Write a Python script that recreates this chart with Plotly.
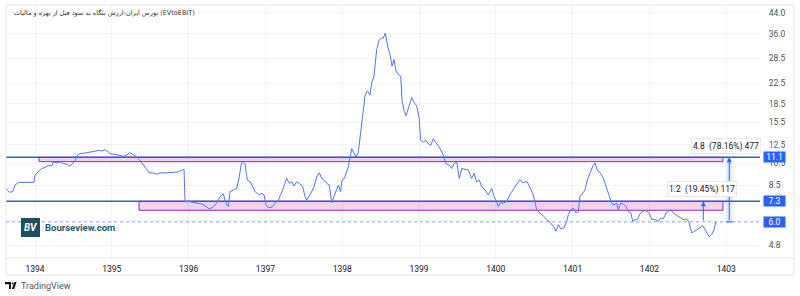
import numpy as np
import plotly.graph_objects as go

# ---------------- data ----------------
T = [1393.622, 1393.665, 1393.709, 1393.740, 1393.782, 1393.870, 1393.957, 1393.987, 1394.000, 1394.043,
     1394.087, 1394.130, 1394.173, 1394.217, 1394.238, 1394.283, 1394.326, 1394.368, 1394.413, 1394.456,
     1394.491, 1394.521, 1394.551, 1394.586, 1394.651, 1394.716, 1394.781, 1394.837, 1394.868, 1394.911,
     1394.954, 1394.977, 1395.042, 1395.107, 1395.150, 1395.194, 1395.228, 1395.272, 1395.315, 1395.358,
     1395.402, 1395.445, 1395.488, 1395.533, 1395.585, 1395.628, 1395.715, 1395.801, 1395.866, 1395.931,
     1395.940, 1395.953, 1396.018, 1396.061, 1396.126, 1396.171, 1396.214, 1396.270, 1396.322, 1396.366,
     1396.409, 1396.452, 1396.474, 1396.496, 1396.517, 1396.539, 1396.582, 1396.626, 1396.660, 1396.682,
     1396.704, 1396.734, 1396.764, 1396.799, 1396.835, 1396.865, 1396.895, 1396.921, 1396.952, 1396.982,
     1397.008, 1397.038, 1397.082, 1397.125, 1397.168, 1397.225, 1397.277, 1397.311, 1397.342, 1397.372,
     1397.407, 1397.441, 1397.486, 1397.516, 1397.538, 1397.581, 1397.633, 1397.668, 1397.702, 1397.733,
     1397.763, 1397.798, 1397.832, 1397.863, 1397.906, 1397.949, 1397.980, 1397.993, 1398.036, 1398.079,
     1398.124, 1398.154, 1398.180, 1398.210, 1398.241, 1398.267, 1398.297, 1398.327, 1398.362, 1398.384,
     1398.414, 1398.449, 1398.483, 1398.514, 1398.535, 1398.561, 1398.592, 1398.622, 1398.648, 1398.674,
     1398.700, 1398.730, 1398.762, 1398.779, 1398.805, 1398.831, 1398.861, 1398.905, 1398.935, 1398.970,
     1399.000, 1399.022, 1399.056, 1399.091, 1399.121, 1399.152, 1399.186, 1399.221, 1399.264, 1399.296,
     1399.316, 1399.351, 1399.395, 1399.426, 1399.456, 1399.491, 1399.525, 1399.556, 1399.599, 1399.642,
     1399.686, 1399.716, 1399.751, 1399.785, 1399.816, 1399.859, 1399.902, 1399.947, 1399.977, 1400.012,
     1400.033, 1400.064, 1400.098, 1400.133, 1400.163, 1400.194, 1400.237, 1400.280, 1400.315, 1400.350,
     1400.380, 1400.410, 1400.445, 1400.480, 1400.510, 1400.532, 1400.576, 1400.618, 1400.663, 1400.706,
     1400.749, 1400.784, 1400.814, 1400.845, 1400.888, 1400.923, 1400.944, 1400.975, 1401.009, 1401.044,
     1401.074, 1401.096, 1401.131, 1401.161, 1401.191, 1401.227, 1401.262, 1401.292, 1401.322, 1401.357,
     1401.392, 1401.422, 1401.452, 1401.478, 1401.509, 1401.539, 1401.574, 1401.595, 1401.626, 1401.660,
     1401.695, 1401.725, 1401.757, 1401.783, 1401.813, 1401.842, 1401.878, 1401.913, 1401.943, 1401.973,
     1401.999, 1402.030, 1402.073, 1402.116, 1402.147, 1402.181, 1402.216, 1402.246, 1402.277, 1402.311,
     1402.346, 1402.376, 1402.407, 1402.441, 1402.486, 1402.519, 1402.551, 1402.594, 1402.624, 1402.659,
     1402.694, 1402.724, 1402.754, 1402.780, 1402.811, 1402.841, 1402.867]

EV_EBIT = [8.26, 7.96, 8.00, 8.52, 8.74, 8.74, 8.71, 8.74, 9.37, 9.66,
           9.98, 10.07, 10.29, 10.20, 10.62, 10.52, 10.62, 10.46, 10.39, 10.20,
           10.52, 10.72, 11.31, 11.49, 11.56, 11.67, 11.78, 11.86, 11.78, 11.94,
           11.67, 11.49, 11.42, 11.31, 11.20, 11.31, 11.60, 11.42, 11.20, 10.86,
           10.46, 9.98, 9.57, 9.57, 9.46, 9.57, 9.57, 9.61, 9.66, 9.88,
           9.88, 7.28, 7.28, 7.21, 7.17, 7.12, 6.99, 6.78, 6.94, 7.17,
           7.63, 7.83, 7.40, 7.06, 6.94, 8.00, 8.13, 8.26, 9.22, 10.29,
           10.69, 10.46, 8.93, 8.79, 8.39, 8.00, 7.88, 7.76, 7.88, 7.76,
           7.06, 6.88, 6.90, 7.12, 7.40, 8.13, 9.08, 8.66, 8.79, 8.44,
           8.79, 8.66, 8.39, 7.63, 7.40, 7.76, 8.39, 9.22, 9.57, 9.08,
           8.93, 8.66, 8.52, 7.21, 7.79, 8.52, 8.00, 8.79, 9.22, 10.13,
           12.05, 11.49, 11.13, 11.67, 13.88, 16.22, 19.91, 20.89, 20.11, 22.59,
           24.07, 30.96, 34.02, 34.54, 34.54, 36.21, 31.94, 29.53, 26.45, 28.17,
           25.23, 24.45, 24.07, 19.01, 17.30, 16.50, 17.58, 19.61, 18.71, 18.13,
           16.22, 13.03, 12.82, 13.03, 12.63, 12.43, 13.24, 12.82, 12.23, 11.67,
           11.31, 10.46, 10.29, 9.98, 10.46, 10.62, 9.08, 9.98, 9.88, 9.82,
           9.08, 9.52, 8.79, 8.93, 8.39, 8.13, 7.76, 8.26, 7.63, 7.28,
           6.94, 7.21, 7.17, 7.28, 7.52, 7.88, 8.26, 8.66, 8.99, 8.71,
           8.79, 8.79, 8.26, 7.88, 7.28, 6.73, 6.53, 6.36, 6.17, 5.97,
           5.75, 5.49, 5.84, 5.61, 5.67, 6.03, 6.42, 6.73, 6.84, 6.53,
           6.63, 7.63, 7.88, 8.13, 8.93, 9.66, 10.20, 10.52, 9.80, 9.60,
           9.22, 8.66, 8.13, 7.76, 7.17, 7.06, 7.17, 6.73, 7.17, 7.12,
           6.94, 6.63, 6.56, 6.03, 6.13, 6.13, 6.48, 6.63, 6.67, 6.63,
           6.53, 6.13, 6.13, 6.03, 6.22, 6.17, 6.53, 6.63, 6.73, 6.53,
           6.42, 6.32, 6.22, 6.13, 6.17, 5.94, 5.40, 5.49, 5.57, 5.67,
           5.79, 5.57, 5.32, 5.20, 5.32, 5.57, 6.00]

YEARS = [1394, 1395, 1396, 1397, 1398, 1399, 1400, 1401, 1402, 1403]
YEAR_LABELS = [str(y) for y in YEARS]
Y_TICKS = [4.8, 6.0, 7.3, 8.5, 10.5, 12.5, 15.5, 18.5, 22.5, 28.5, 36.0, 44.0]
Y_TICK_LABELS = ["%.1f" % v for v in Y_TICKS]

LEVEL_HIGH = 11.1
LEVEL_LOW = 7.3
LAST_VALUE = 6.0
ZONE_HIGH = [1394.052, 1402.958, 10.65, 11.1]   # x0, x1, y_low, y_high
ZONE_LOW = [1395.354, 1402.958, 6.70, 7.3]
RANGE1_X = 1402.702
RANGE2_X = [1403.004, 1403.040, 1403.082]
RANGE1_TEXT = "1.2\u00a0\u00a0(19.45%) 117"
RANGE2_TEXT = "4.8\u00a0\u00a0(78.16%) 477"
TITLE = "بورس ایران-ارزش بنگاه به سود قبل از بهره و مالیات (EVtoEBIT)"

# ---------------- layout geometry ----------------
W, H = 800, 296
ML, MR, MT, MB = 6, 40, 5, 38
PW, PH = W - ML - MR, H - MT - MB
XR = [1393.622, 1403.440]
YR = [0.6288, 1.6752]


def px(x):
    return (x - ML) / PW


def py(y):
    return (H - MB - y) / PH


def ppath(pts):
    return "M " + " L ".join("%.5f,%.5f" % (px(a), py(b)) for a, b in pts) + " Z"


FONT = "Roboto, 'Noto Sans', 'DejaVu Sans', sans-serif"
BLUE = "#2962FF"

fig = go.Figure()

# zones (rectangles)
for z in (ZONE_HIGH, ZONE_LOW):
    x0, x1, y0, y1 = z
    fig.add_trace(go.Scatter(x=[x0, x1, x1, x0, x0], y=[y0, y0, y1, y1, y0],
                             mode="lines", fill="toself",
                             fillcolor="rgba(156,39,176,0.2)",
                             line=dict(color="#9c27b0", width=1),
                             hoverinfo="skip", showlegend=False))

# range band for the second measurement
fig.add_trace(go.Scatter(x=[RANGE2_X[0], RANGE2_X[2], RANGE2_X[2], RANGE2_X[0], RANGE2_X[0]],
                         y=[LAST_VALUE, LAST_VALUE, LEVEL_HIGH, LEVEL_HIGH, LAST_VALUE],
                         mode="lines", fill="toself", fillcolor="rgba(41,98,255,0.12)",
                         line=dict(width=0), hoverinfo="skip", showlegend=False))
fig.add_trace(go.Scatter(x=[RANGE2_X[0], RANGE2_X[2]], y=[LAST_VALUE, LAST_VALUE],
                         mode="lines", line=dict(color=BLUE, width=1),
                         hoverinfo="skip", showlegend=False))

# horizontal levels
for lv in (LEVEL_HIGH, LEVEL_LOW):
    fig.add_trace(go.Scatter(x=XR, y=[lv, lv], mode="lines",
                             line=dict(color="#3159e8", width=1.6),
                             hoverinfo="skip", showlegend=False))
fig.add_trace(go.Scatter(x=XR, y=[LAST_VALUE, LAST_VALUE], mode="lines",
                         line=dict(color="rgba(41,98,255,0.55)", width=1, dash="dot"),
                         hoverinfo="skip", showlegend=False))

# main series
fig.add_trace(go.Scatter(x=T, y=EV_EBIT, mode="lines",
                         line=dict(color="#5573ee", width=1),
                         showlegend=False))

annotations = []
# arrows
annotations.append(dict(x=RANGE1_X, y=np.log10(LEVEL_LOW), ax=RANGE1_X, ay=np.log10(LAST_VALUE),
                        xref="x", yref="y", axref="x", ayref="y", text="", showarrow=True,
                        arrowhead=2, arrowsize=1, arrowwidth=1, arrowcolor=BLUE, standoff=0))
annotations.append(dict(x=RANGE2_X[1], y=np.log10(LEVEL_HIGH), ax=RANGE2_X[1], ay=np.log10(LAST_VALUE),
                        xref="x", yref="y", axref="x", ayref="y", text="", showarrow=True,
                        arrowhead=2, arrowsize=1, arrowwidth=1, arrowcolor=BLUE, standoff=0))
# measurement labels
annotations.append(dict(x=px(701.5), y=py(189), xref="paper", yref="paper", text=RANGE1_TEXT,
                        showarrow=False, xanchor="center", yanchor="middle",
                        bgcolor="white", bordercolor="#e6e8ee", borderwidth=1,
                        width=66, height=12, font=dict(family=FONT, size=8.5, color="#131722")))
annotations.append(dict(x=px(726), y=py(145.5), xref="paper", yref="paper", text=RANGE2_TEXT,
                        showarrow=False, xanchor="center", yanchor="middle",
                        bgcolor="white", bordercolor="#e6e8ee", borderwidth=1,
                        width=66, height=12, font=dict(family=FONT, size=8.5, color="#131722")))
# price tags
for v in (LEVEL_HIGH, LEVEL_LOW, LAST_VALUE):
    annotations.append(dict(x=px(774.5), y=np.log10(v), xref="paper", yref="y",
                            xanchor="center", yanchor="middle",
                            text="%.1f" % v, showarrow=False, bgcolor=BLUE,
                            width=21, height=10, borderpad=0,
                            font=dict(family=FONT, size=8.5, color="white")))
# title
annotations.append(dict(x=px(12), y=py(13), xref="paper", yref="paper", text=TITLE,
                        showarrow=False, xanchor="left", yanchor="middle",
                        font=dict(family="'DejaVu Sans', sans-serif", size=6.5, color="#333")))
# Bourseview logo
annotations.append(dict(x=px(30.5), y=py(227.5), xref="paper", yref="paper", text="<b><i>BV</i></b>",
                        showarrow=False, xanchor="center", yanchor="middle",
                        font=dict(family=FONT, size=10, color="white")))
annotations.append(dict(x=px(43), y=py(227.5), xref="paper", yref="paper", text="<b>Bourseview.com</b>",
                        showarrow=False, xanchor="left", yanchor="middle",
                        font=dict(family=FONT, size=9.5, color="#24596e")))
# TradingView footer
annotations.append(dict(x=px(19), y=py(285.5), xref="paper", yref="paper", text="TradingView",
                        showarrow=False, xanchor="left", yanchor="middle",
                        font=dict(family=FONT, size=9, color="#50535e")))

shapes = [
    # outer border
    dict(type="rect", xref="paper", yref="paper", x0=px(6), x1=px(794), y0=py(5), y1=py(275),
         line=dict(color="#e0e3eb", width=1), layer="above"),
    # time axis separator
    dict(type="line", xref="paper", yref="paper", x0=px(6), x1=px(794), y0=py(258), y1=py(258),
         line=dict(color="#e0e3eb", width=1), layer="above"),
    # Bourseview square
    dict(type="rect", xref="paper", yref="paper", x0=px(21), x1=px(40), y0=py(237), y1=py(218),
         fillcolor="#1d4f63", line=dict(width=0), layer="above"),
    # TradingView mark
    dict(type="path", xref="paper", yref="paper",
         path=ppath([(5, 282), (11, 282), (11, 289), (9, 289), (9, 284.3), (5, 284.3)]),
         fillcolor="#131722", line=dict(width=0), layer="above"),
    dict(type="circle", xref="paper", yref="paper", x0=px(11.6), x1=px(13.4), y0=py(284.4), y1=py(282.6),
         fillcolor="#131722", line=dict(width=0), layer="above"),
    dict(type="path", xref="paper", yref="paper",
         path=ppath([(14.2, 282), (16.6, 282), (14.2, 289), (11.8, 289)]),
         fillcolor="#131722", line=dict(width=0), layer="above"),
]

fig.update_layout(
    width=W, height=H,
    margin=dict(l=ML, r=MR, t=MT, b=MB),
    paper_bgcolor="white", plot_bgcolor="white",
    font=dict(family=FONT, size=8.5, color="#131722"),
    showlegend=False,
    xaxis=dict(range=XR, tickvals=YEARS, ticktext=YEAR_LABELS, showgrid=True,
               gridcolor="#f0f3fa", gridwidth=1, zeroline=False, showline=False,
               ticks="outside", ticklen=3, tickcolor="rgba(0,0,0,0)",
               tickfont=dict(family=FONT, size=8.5, color="#131722"), fixedrange=True),
    yaxis=dict(type="log", range=YR, side="right", tickvals=Y_TICKS, ticktext=Y_TICK_LABELS,
               showgrid=True, gridcolor="#f0f3fa", gridwidth=1, zeroline=False, showline=False,
               ticks="outside", ticklen=6, tickcolor="rgba(0,0,0,0)",
               tickfont=dict(family=FONT, size=8.5, color="#50535e"), fixedrange=True),
    annotations=annotations,
    shapes=shapes,
)

fig.write_html("out.html", config={"displayModeBar": False})
